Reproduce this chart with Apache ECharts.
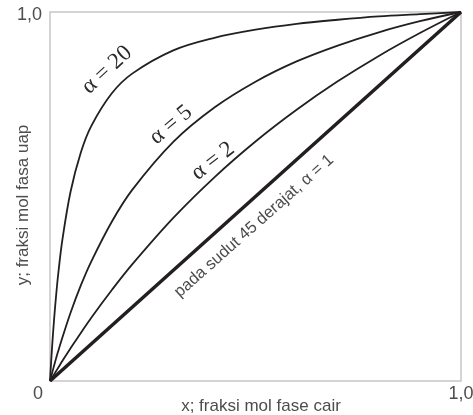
<!DOCTYPE html>
<html>
<head>
<meta charset="utf-8">
<script src="https://cdn.jsdelivr.net/npm/echarts@6/dist/echarts.min.js"></script>
<style>
  html, body { margin: 0; padding: 0; background: #fff; }
  #chart { width: 473px; height: 415px; }
</style>
</head>
<body>
<div id="chart"></div>
<script>
// Liquid mole fraction x (shared by the curved equilibrium lines)
const xLiquid = [0, 0.005, 0.01, 0.015, 0.02, 0.03, 0.05, 0.075, 0.1, 0.15, 0.2, 0.3, 0.4, 0.5, 0.6, 0.7, 0.8, 0.9, 1.0];
// Vapour mole fraction y for each relative volatility
const yAlpha20 = [0, 0.091, 0.168, 0.233, 0.290, 0.382, 0.513, 0.619, 0.690, 0.779, 0.833, 0.896, 0.930, 0.952, 0.968, 0.979, 0.988, 0.994, 1.0];
const yAlpha5  = [0, 0.021, 0.042, 0.062, 0.081, 0.117, 0.185, 0.259, 0.323, 0.431, 0.518, 0.648, 0.741, 0.811, 0.866, 0.909, 0.945, 0.975, 1.0];
const yAlpha2  = [0, 0.009, 0.018, 0.027, 0.036, 0.054, 0.089, 0.130, 0.171, 0.246, 0.316, 0.442, 0.552, 0.649, 0.735, 0.812, 0.881, 0.943, 1.0];
// 45-degree line (alpha = 1)
const xDiagonal = [0, 1];
const yDiagonal = [0, 1];

const axisTicks = [0, 1];
const tickText = { 0: '0', 1: '1,0' };

const ink = '#231f20';
const textGray = '#4d4d4d';
const sans = '"Liberation Sans", Arial, sans-serif';
const serif = '"Liberation Serif", "Times New Roman", serif';

function pairs(xs, ys) { return xs.map((x, i) => [x, ys[i]]); }

function curve(name, xs, ys, width) {
  return {
    name: name,
    type: 'line',
    data: pairs(xs, ys),
    showSymbol: false,
    smooth: 0.35,
    lineStyle: { color: ink, width: width },
    silent: true
  };
}

const chart = echarts.init(document.getElementById('chart'), null, { renderer: 'canvas' });

const deg = Math.PI / 180;

chart.setOption({
  animation: false,
  backgroundColor: '#fff',
  grid: {
    left: 50, right: 12, top: 12, bottom: 34,
    containLabel: false, outerBoundsMode: 'none',
    show: true, borderColor: '#c6c6c6', borderWidth: 1.5, backgroundColor: 'transparent'
  },
  xAxis: {
    type: 'value',
    min: axisTicks[0], max: axisTicks[1], interval: 1,
    axisLine: { show: false }, axisTick: { show: false }, splitLine: { show: false },
    axisLabel: {
      margin: 4,
      color: textGray, fontSize: 18, fontFamily: sans,
      showMinLabel: true, showMaxLabel: true,
      formatter: v => v === 0 ? '{z|' + tickText[0] + '}' : tickText[1],
      rich: { z: { padding: [0, 24, 0, 0], color: textGray, fontSize: 18, fontFamily: sans } }
    },
    name: 'x; fraksi mol fase cair',
    nameLocation: 'middle',
    nameGap: 17,
    nameMoveOverlap: false,
    nameTextStyle: { color: textGray, fontSize: 17, fontFamily: sans, padding: [0, 0, 0, 11] }
  },
  yAxis: {
    type: 'value',
    min: axisTicks[0], max: axisTicks[1], interval: 1,
    axisLine: { show: false }, axisTick: { show: false }, splitLine: { show: false },
    axisLabel: {
      margin: 8,
      color: textGray, fontSize: 18, fontFamily: sans,
      showMinLabel: true, showMaxLabel: true,
      formatter: v => v === 1 ? '{t|' + tickText[1] + '}' : '',
      rich: { t: { padding: [6, 0, 0, 0], color: textGray, fontSize: 18, fontFamily: sans } }
    },
    name: 'y; fraksi mol fasa uap',
    nameLocation: 'middle',
    nameGap: 18,
    nameMoveOverlap: false,
    nameTextStyle: { color: textGray, fontSize: 17, fontFamily: sans, padding: [0, 17, 0, 0] }
  },
  series: [
    curve('α = 20', xLiquid, yAlpha20, 1.8),
    curve('α = 5', xLiquid, yAlpha5, 1.8),
    curve('α = 2', xLiquid, yAlpha2, 1.8),
    Object.assign(curve('α = 1', xDiagonal, yDiagonal, 3.5), { smooth: false })
  ],
  graphic: [
    { type: 'text', x: 107, y: 70, rotation: 42.5 * deg, silent: true,
      style: { text: 'α = 20', font: '23px ' + serif, fill: '#2a2a2a',
               textAlign: 'center', textVerticalAlign: 'middle', align: 'center', verticalAlign: 'middle' } },
    { type: 'text', x: 171, y: 125, rotation: 40 * deg, silent: true,
      style: { text: 'α = 5', font: '23px ' + serif, fill: '#2a2a2a',
               textAlign: 'center', textVerticalAlign: 'middle', align: 'center', verticalAlign: 'middle' } },
    { type: 'text', x: 213, y: 161, rotation: 37.5 * deg, silent: true,
      style: { text: 'α = 2', font: '23px ' + serif, fill: '#2a2a2a',
               textAlign: 'center', textVerticalAlign: 'middle', align: 'center', verticalAlign: 'middle' } },
    { type: 'text', x: 254, y: 226, rotation: 41.5 * deg, silent: true,
      style: { text: 'pada sudut 45 derajat, α = 1', font: '16.5px ' + sans, fill: textGray,
               textAlign: 'center', textVerticalAlign: 'middle', align: 'center', verticalAlign: 'middle' } }
  ]
});
</script>
</body>
</html>
